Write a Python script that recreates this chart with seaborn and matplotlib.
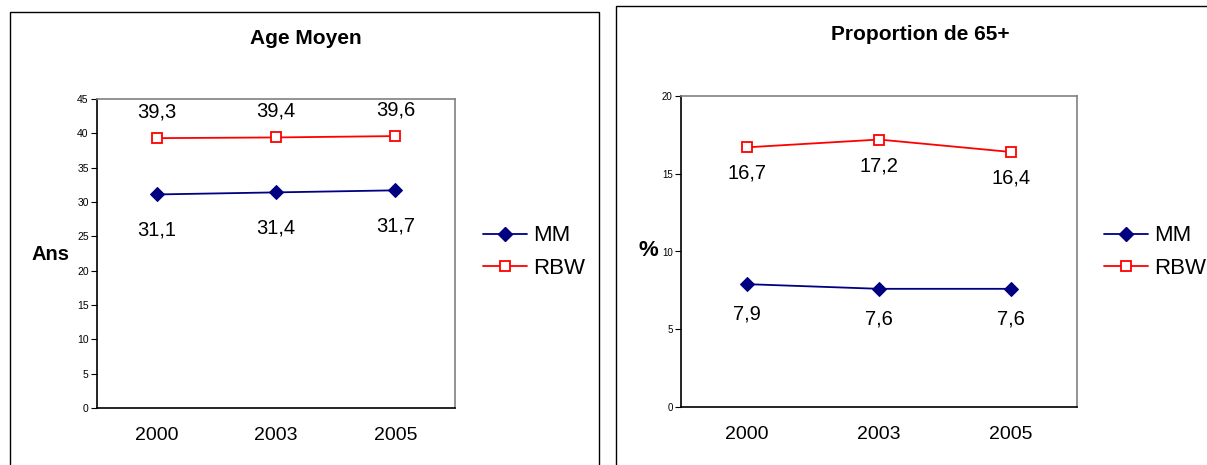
import pandas as pd
import matplotlib
matplotlib.use("Agg")
import matplotlib.pyplot as plt
from matplotlib.patches import Rectangle
from matplotlib.lines import Line2D
import seaborn as sns

years = ["2000", "2003", "2005"]
age_mm = [31.1, 31.4, 31.7]
age_rbw = [39.3, 39.4, 39.6]
p65_mm = [7.9, 7.6, 7.6]
p65_rbw = [16.7, 17.2, 16.4]

sns.set_style("white")
plt.rcParams['font.family'] = ['Liberation Sans', 'DejaVu Sans']
plt.rcParams['text.color'] = 'black'
plt.rcParams['xtick.color'] = 'black'
plt.rcParams['ytick.color'] = 'black'

W, H = 1207, 465
NAVY = "#000080"
RED = "#ff0000"


def fmt(v):
    return f"{v:.1f}".replace('.', ',')


def px_axes(fig, x0, y0, x1, y1):
    # pixel box (top-left origin) -> figure fraction
    return fig.add_axes([x0 / W, 1 - y1 / H, (x1 - x0) / W, (y1 - y0) / H])


def draw_panel(ax, mm, rbw, ymax, ystep, off_mm, off_rbw, ytick_fs):
    df_mm = pd.DataFrame({'year': years, 'val': mm})
    df_rbw = pd.DataFrame({'year': years, 'val': rbw})
    sns.lineplot(data=df_mm, x='year', y='val', ax=ax, color=NAVY, lw=1.3,
                 marker='D', markersize=7, markerfacecolor=NAVY,
                 markeredgecolor=NAVY)
    sns.lineplot(data=df_rbw, x='year', y='val', ax=ax, color=RED, lw=1.3,
                 marker='s', markersize=7, markerfacecolor='white',
                 markeredgecolor=RED, markeredgewidth=1.3)
    for i, v in enumerate(mm):
        ax.annotate(fmt(v), (i, v), xytext=(0, off_mm), textcoords='offset pixels',
                    ha='center', va='center', fontsize=14.5)
    for i, v in enumerate(rbw):
        ax.annotate(fmt(v), (i, v), xytext=(0, off_rbw), textcoords='offset pixels',
                    ha='center', va='center', fontsize=14.5)
    ax.set_xlim(-0.5, 2.5)
    ax.set_ylim(0, ymax)
    ax.set_yticks(range(0, ymax + 1, ystep))
    ax.set_xlabel('')
    ax.set_ylabel('')
    ax.tick_params(axis='x', length=0, labelsize=14, pad=14)
    ax.tick_params(axis='y', length=4, width=0.8, direction='out', labelsize=ytick_fs,
                   pad=2, left=True)
    for s in ['left', 'bottom']:
        ax.spines[s].set_color('black')
        ax.spines[s].set_linewidth(1.2)
    for s in ['top', 'right']:
        ax.spines[s].set_color('#808080')
        ax.spines[s].set_linewidth(1.2)


fig = plt.figure(figsize=(W / 100, H / 100), dpi=100)

# chart frames
fig.add_artist(Rectangle((10 / W, -0.1), (599 - 10) / W, 1.1 - 12 / H,
                         transform=fig.transFigure, fill=False, ec='black', lw=1))
fig.add_artist(Rectangle((616 / W, -0.1), 0.5, 1.1 - 6 / H,
                         transform=fig.transFigure, fill=False, ec='black', lw=1))

ax1 = px_axes(fig, 97, 99, 455, 408)
draw_panel(ax1, age_mm, age_rbw, 45, 5, -36, 26, 7.5)
fig.text(306 / W, 1 - 39 / H, "Age Moyen", ha='center', va='center',
         fontsize=15, fontweight='bold')
fig.text(51 / W, 1 - 255 / H, "Ans", ha='center', va='center',
         fontsize=14.5, fontweight='bold')

ax2 = px_axes(fig, 681, 96, 1077, 407)
draw_panel(ax2, p65_mm, p65_rbw, 20, 5, -30, -26, 7)
fig.text(920 / W, 1 - 34 / H, "Proportion de 65+", ha='center', va='center',
         fontsize=15, fontweight='bold')
fig.text(648 / W, 1 - 251 / H, "%", ha='center', va='center',
         fontsize=16, fontweight='bold')

handles = [
    Line2D([], [], color=NAVY, lw=1.3, marker='D', markersize=7,
           markerfacecolor=NAVY, markeredgecolor=NAVY),
    Line2D([], [], color=RED, lw=1.3, marker='s', markersize=7,
           markerfacecolor='white', markeredgecolor=RED, markeredgewidth=1.3),
]
for x0 in (483, 1104):
    fig.legend(handles, ["MM", "RBW"], loc='center left',
               bbox_to_anchor=(x0 / W, 1 - 252 / H), frameon=False,
               fontsize=16, handlelength=2.0, handletextpad=0.25,
               labelspacing=0.5, borderpad=0, borderaxespad=0)

fig.savefig("out.png", dpi=100)
